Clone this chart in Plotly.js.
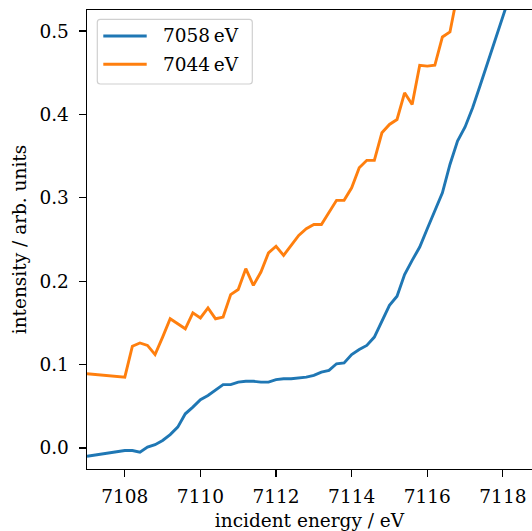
<!DOCTYPE html>
<html>
<head>
<meta charset="utf-8">
<script src="https://cdn.plot.ly/plotly-3.0.1.min.js"></script>
<style>
  html, body { margin: 0; padding: 0; background: #fff; overflow: hidden; }
  #chart { width: 532px; height: 531px; }
</style>
</head>
<body>
<div id="chart"></div>
<script>
// Incident energy grid (eV)
const energy = [7107.0, 7108.0, 7108.2, 7108.4, 7108.6, 7108.8, 7109.0, 7109.2, 7109.4, 7109.6,
  7109.8, 7110.0, 7110.2, 7110.4, 7110.6, 7110.8, 7111.0, 7111.2, 7111.4, 7111.6,
  7111.8, 7112.0, 7112.2, 7112.4, 7112.6, 7112.8, 7113.0, 7113.2, 7113.4, 7113.6,
  7113.8, 7114.0, 7114.2, 7114.4, 7114.6, 7114.8, 7115.0, 7115.2, 7115.4, 7115.6,
  7115.8, 7116.0, 7116.2, 7116.4, 7116.6, 7116.8, 7117.0, 7117.2, 7117.4, 7117.6,
  7117.8, 7118.0, 7118.2];

// Emission at 7058 eV
const intensity7058 = [-0.010, -0.003, -0.003, -0.005, 0.001, 0.004, 0.009, 0.016, 0.025, 0.041,
  0.049, 0.058, 0.063, 0.069, 0.076, 0.076, 0.079, 0.080, 0.080, 0.079,
  0.079, 0.082, 0.083, 0.083, 0.084, 0.085, 0.087, 0.091, 0.093, 0.101,
  0.102, 0.112, 0.118, 0.123, 0.133, 0.152, 0.171, 0.182, 0.208, 0.225,
  0.241, 0.263, 0.285, 0.306, 0.340, 0.368, 0.385, 0.408, 0.435, 0.462,
  0.490, 0.517, 0.545];

// Emission at 7044 eV
const intensity7044 = [0.089, 0.085, 0.122, 0.126, 0.123, 0.112, 0.133, 0.155, 0.149, 0.143,
  0.162, 0.156, 0.168, 0.155, 0.157, 0.184, 0.190, 0.215, 0.195, 0.211,
  0.234, 0.242, 0.231, 0.243, 0.255, 0.263, 0.268, 0.268, 0.283, 0.297,
  0.297, 0.312, 0.336, 0.345, 0.345, 0.378, 0.388, 0.394, 0.426, 0.412,
  0.459, 0.458, 0.459, 0.493, 0.499, 0.545, 0.580, 0.610, 0.640, 0.670,
  0.700, 0.730, 0.760];

const seriesNames = ['7058\u2009eV', '7044\u2009eV'];
const seriesColors = ['#1f77b4', '#ff7f0e'];

const xTicks = [7108, 7110, 7112, 7114, 7116, 7118];
const yTicks = [0.0, 0.1, 0.2, 0.3, 0.4, 0.5];

const FONT = 'DejaVu Serif, serif';
const FS = 18.5;
const W = 532, H = 531;
const M = { l: 87, r: 0, t: 10, b: 62 };
const PW = W - M.l - M.r, PH = H - M.t - M.b;

const traces = [
  { x: energy, y: intensity7058, name: seriesNames[0], mode: 'lines',
    line: { color: seriesColors[0], width: 2.9 }, showlegend: false },
  { x: energy, y: intensity7044, name: seriesNames[1], mode: 'lines',
    line: { color: seriesColors[1], width: 2.9 }, showlegend: false }
];

// legend box drawn in paper units from pixel offsets inside the plot area
const px = v => v / PW;
const py = v => 1 - v / PH;
const box = { x0: 10.3, x1: 165.3, y0: 9.3, y1: 74, r: 3 };
function roundRect(b) {
  const X0 = px(b.x0), X1 = px(b.x1), Y0 = py(b.y0), Y1 = py(b.y1);
  const rx = px(b.r), ry = b.r / PH;
  return `M${X0 + rx},${Y0} L${X1 - rx},${Y0} Q${X1},${Y0} ${X1},${Y0 - ry} ` +
         `L${X1},${Y1 + ry} Q${X1},${Y1} ${X1 - rx},${Y1} L${X0 + rx},${Y1} ` +
         `Q${X0},${Y1} ${X0},${Y1 + ry} L${X0},${Y0 - ry} Q${X0},${Y0} ${X0 + rx},${Y0} Z`;
}

const shapes = [
  { type: 'path', xref: 'paper', yref: 'paper', path: roundRect(box),
    fillcolor: 'rgba(255,255,255,0.8)', line: { color: '#d0d0d0', width: 1.2 } }
];
const annotations = [];
seriesNames.forEach((name, i) => {
  const rowY = 26 + i * 28.3;
  shapes.push({ type: 'line', xref: 'paper', yref: 'paper',
    x0: px(16.3), x1: px(59.7), y0: py(rowY), y1: py(rowY),
    line: { color: seriesColors[i], width: 2.9 } });
  annotations.push({ xref: 'paper', yref: 'paper', x: px(74), y: py(rowY),
    xanchor: 'left', yanchor: 'middle', showarrow: false, text: name,
    font: { family: FONT, size: FS, color: '#000' } });
});

const layout = {
  width: W, height: H,
  margin: M,
  paper_bgcolor: '#fff', plot_bgcolor: '#fff',
  showlegend: false,
  font: { family: FONT, size: FS, color: '#000' },
  xaxis: {
    range: [7107.0, 7118.77],
    tickvals: xTicks, ticktext: xTicks.map(String),
    ticks: 'outside', ticklen: 7, tickwidth: 1.2, tickcolor: '#000',
    showline: true, linecolor: '#000', linewidth: 1.4, mirror: true,
    showgrid: false, zeroline: false,
    ticklabelstandoff: 3,
    title: { text: 'incident energy / eV', font: { family: FONT, size: FS }, standoff: 9 }
  },
  yaxis: {
    range: [-0.0252, 0.5253],
    tickvals: yTicks, ticktext: yTicks.map(v => v.toFixed(1)),
    ticks: 'outside', ticklen: 7, tickwidth: 1.2, tickcolor: '#000',
    showline: true, linecolor: '#000', linewidth: 1.4, mirror: false,
    showgrid: false, zeroline: false,
    ticklabelstandoff: 6,
    title: { text: 'intensity / arb. units', font: { family: FONT, size: FS }, standoff: 8 }
  },
  shapes: shapes,
  annotations: annotations
};

Plotly.newPlot('chart', traces, layout, { staticPlot: true, displayModeBar: false });
</script>
</body>
</html>
